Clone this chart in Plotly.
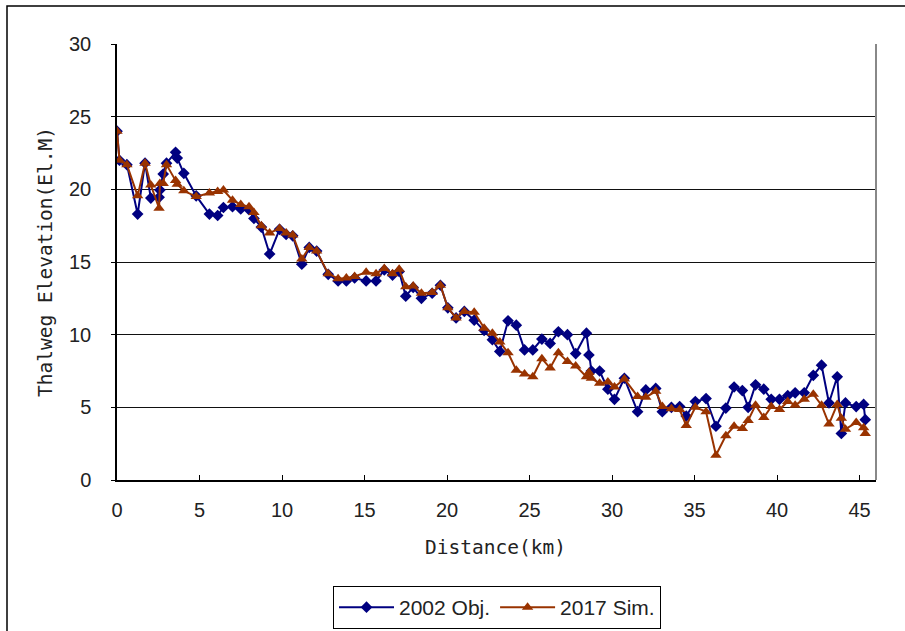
import plotly.graph_objects as go

distance = [0.0, 0.15, 0.6, 1.25, 1.7, 2.05, 2.55, 2.6, 2.8, 3.0, 3.55, 3.65, 4.05, 4.8, 5.6, 6.1,
            6.45, 7.0, 7.5, 8.0, 8.3, 8.75, 9.25, 9.85, 10.25, 10.65, 11.2, 11.65, 12.1, 12.8, 13.4,
            13.9, 14.4, 15.1, 15.7, 16.2, 16.7, 17.1, 17.5, 17.95, 18.45, 19.1, 19.6, 20.05, 20.55,
            21.05, 21.65, 22.25, 22.75, 23.2, 23.7, 24.2, 24.7, 25.2, 25.75, 26.25, 26.75, 27.3,
            27.8, 28.45, 28.6, 28.75, 29.25, 29.75, 30.15, 30.75, 31.55, 32.05, 32.65, 33.05, 33.6,
            34.1, 34.5, 35.05, 35.7, 36.3, 36.9, 37.4, 37.9, 38.25, 38.7, 39.2, 39.65, 40.15, 40.65,
            41.1, 41.65, 42.2, 42.7, 43.15, 43.65, 43.9, 44.15, 44.8, 45.25, 45.35]

obj_2002 = [24.0, 22.0, 21.7, 18.3, 21.8, 19.4, 19.45, 19.95, 21.05, 21.8, 22.55, 22.15, 21.1, 19.55,
            18.3, 18.2, 18.75, 18.8, 18.65, 18.6, 18.0, 17.4, 15.55, 17.25, 16.9, 16.8, 14.85, 16.0,
            15.75, 14.15, 13.7, 13.7, 13.9, 13.7, 13.7, 14.45, 14.1, 14.35, 12.65, 13.25, 12.5, 12.85,
            13.4, 11.85, 11.15, 11.6, 11.0, 10.3, 9.65, 8.85, 10.95, 10.65, 8.95, 8.95, 9.7, 9.4,
            10.2, 10.0, 8.7, 10.1, 8.6, 7.5, 7.5, 6.25, 5.55, 7.0, 4.7, 6.2, 6.3, 4.7, 5.0, 5.05,
            4.4, 5.4, 5.6, 3.7, 4.95, 6.4, 6.15, 5.0, 6.55, 6.25, 5.55, 5.55, 5.8, 6.0, 6.0, 7.2,
            7.9, 5.3, 7.1, 3.2, 5.3, 5.05, 5.2, 4.15]

sim_2017 = [24.0, 22.0, 21.7, 19.55, 21.8, 20.3, 18.7, 20.4, 20.4, 21.7, 20.6, 20.35, 19.9, 19.5,
            19.75, 19.85, 19.95, 19.25, 18.95, 18.8, 18.4, 17.5, 17.0, 17.3, 17.0, 16.85, 15.2, 16.0,
            15.75, 14.2, 13.85, 13.9, 14.0, 14.3, 14.2, 14.55, 14.2, 14.5, 13.3, 13.35, 12.85, 12.9,
            13.4, 11.85, 11.15, 11.6, 11.55, 10.45, 10.1, 9.5, 8.75, 7.55, 7.3, 7.1, 8.35, 7.7,
            8.75, 8.15, 7.85, 7.1, 7.4, 7.0, 6.65, 6.75, 6.4, 6.95, 5.75, 5.7, 6.1, 5.05, 4.9, 4.85,
            3.75, 5.0, 4.7, 1.7, 3.05, 3.7, 3.55, 4.1, 5.15, 4.3, 5.05, 4.85, 5.4, 5.15, 5.55, 5.9,
            5.15, 3.85, 5.2, 4.25, 3.5, 3.95, 3.6, 3.2]

series_names = ["2002 Obj.", "2017 Sim."]
x_ticks = [0, 5, 10, 15, 20, 25, 30, 35, 40, 45]
y_ticks = [0, 5, 10, 15, 20, 25, 30]

BLUE = "#000080"
BROWN = "#993300"

fig = go.Figure()
fig.add_trace(go.Scatter(
    x=distance, y=obj_2002, name=series_names[0], mode="lines+markers",
    line=dict(color=BLUE, width=2),
    marker=dict(symbol="diamond", size=9, color=BLUE),
))
fig.add_trace(go.Scatter(
    x=distance, y=sim_2017, name=series_names[1], mode="lines+markers",
    line=dict(color=BROWN, width=2),
    marker=dict(symbol="triangle-up", size=10, color=BROWN),
))

W, H = 905, 631
L, R, T, B = 117, 29, 44, 151
pw, ph = W - L - R, H - T - B

def px(xp):
    return (xp - L) / pw

def py(yp):
    return (H - B - yp) / ph

tick_font = dict(family="Liberation Sans, Arial, sans-serif", size=20, color="#222222")
title_font = dict(family="DejaVu Sans Mono, Liberation Mono, monospace", size=19.5, color="#222222")

fig.update_layout(
    width=W, height=H,
    margin=dict(l=L, r=R, t=T, b=B, autoexpand=False),
    paper_bgcolor="white", plot_bgcolor="white",
    showlegend=True,
    legend=dict(
        orientation="h", x=px(497), xanchor="center", y=py(586), yanchor="top",
        bordercolor="black", borderwidth=1, bgcolor="white",
        font=dict(family="Liberation Sans, Arial, sans-serif", size=21, color="#222222"),
        itemwidth=55, tracegroupgap=0,
    ),
    xaxis=dict(
        range=[0, 46], tickmode="array", tickvals=x_ticks, ticktext=[str(v) for v in x_ticks],
        showgrid=False, zeroline=False, showline=True, linecolor="black", linewidth=1.5,
        ticks="inside", ticklen=5, tickcolor="black", tickfont=tick_font,
        ticklabelstandoff=11, automargin=False,
    ),
    yaxis=dict(
        range=[0, 30], tickmode="array", tickvals=y_ticks, ticktext=[str(v) for v in y_ticks],
        showgrid=True, gridcolor="#111111", gridwidth=1, zeroline=False,
        showline=True, linecolor="black", linewidth=1.5,
        ticks="outside", ticklen=4, tickcolor="black", tickfont=tick_font,
        ticklabelstandoff=16, automargin=False,
    ),
    shapes=[
        dict(type="line", xref="paper", yref="paper", x0=1, x1=1, y0=0, y1=1,
             line=dict(color="#888888", width=2)),
        dict(type="rect", xref="paper", yref="paper", x0=px(7), x1=px(915), y0=py(6), y1=py(645),
             line=dict(color="black", width=1.5), fillcolor="rgba(0,0,0,0)", layer="below"),
    ],
    annotations=[
        dict(text="Distance(km)", xref="paper", yref="paper", x=px(495), y=py(547),
             xanchor="center", yanchor="middle", showarrow=False, font=title_font),
        dict(text="Thalweg Elevation(El.M)", xref="paper", yref="paper", x=px(45), y=py(262),
             xanchor="center", yanchor="middle", showarrow=False, textangle=-90, font=title_font),
    ],
)

fig.write_html("out.html", config={"displayModeBar": False},
               post_script="document.body.style.margin='0';")
